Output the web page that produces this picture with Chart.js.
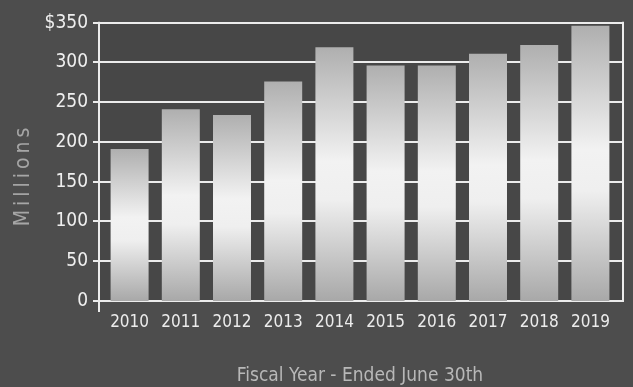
<!DOCTYPE html>
<html lang="en">
<head>
<meta charset="utf-8">
<title>Fiscal Year</title>
<script src="https://cdn.jsdelivr.net/npm/chart.js@4"></script>
<style>
    html, body { margin: 0; padding: 0; background: #4d4d4d; }
    #grafico { display: block; }
</style>
</head>
<body>
<canvas id="grafico" width="633" height="387"></canvas>
<script>
// Datos: millones por año fiscal
const anios = ['2010', '2011', '2012', '2013', '2014', '2015', '2016', '2017', '2018', '2019'];
const millones = [191, 241, 234, 276, 319, 296, 296, 311, 322, 346];
const marcasY = [0, 50, 100, 150, 200, 250, 300, 350];

const tituloY = 'Millions';
const tituloX = 'Fiscal Year - Ended June 30th';

const fuente = "'DejaVu Sans Condensed', 'DejaVu Sans', sans-serif";

// Degradado vertical de cada barra: gris arriba y abajo, casi blanco al centro
function degradadoBarra(ctx) {
    const chart = ctx.chart;
    if (!chart.chartArea || !ctx.parsed) return '#d8d8d8';
    const y = chart.scales.y;
    const tope = y.getPixelForValue(ctx.parsed.y);
    const base = y.getPixelForValue(0);
    const g = chart.ctx.createLinearGradient(0, tope, 0, base);
    g.addColorStop(0, '#afafaf');
    g.addColorStop(0.45, '#f2f2f2');
    g.addColorStop(0.6, '#efefef');
    g.addColorStop(1, '#a8a8a8');
    return g;
}

// Marco, líneas guía y título vertical (se dibujan antes que las barras)
const marco = {
    id: 'marco',
    beforeDatasetsDraw(chart) {
        const { ctx, chartArea: a, scales: { y } } = chart;
        const izq = a.left - 5;
        const der = a.right + 7;
        const arriba = y.getPixelForValue(350);
        const abajo = y.getPixelForValue(0);
        ctx.save();
        ctx.fillStyle = '#474747';
        ctx.fillRect(izq, arriba, der - izq, abajo - arriba);

        ctx.strokeStyle = '#ececec';
        ctx.lineWidth = 2;
        marcasY.forEach(v => {
            const py = Math.round(y.getPixelForValue(v));
            ctx.beginPath();
            ctx.moveTo(izq - 6, py);
            ctx.lineTo(der + 1, py);
            ctx.stroke();
        });
        ctx.beginPath();
        ctx.moveTo(izq, arriba - 1);
        ctx.lineTo(izq, abajo + 11);
        ctx.moveTo(der, arriba - 1);
        ctx.lineTo(der, abajo + 1);
        ctx.stroke();

        ctx.translate(24, 177);
        ctx.rotate(-Math.PI / 2);
        ctx.letterSpacing = '4px';
        ctx.font = '21px ' + fuente;
        ctx.fillStyle = '#a6a6a6';
        ctx.textAlign = 'center';
        ctx.textBaseline = 'middle';
        ctx.fillText(tituloY, 2, 0);
        ctx.restore();
    }
};

new Chart(document.getElementById('grafico').getContext('2d'), {
    type: 'bar',
    data: {
        labels: anios,
        datasets: [{
            data: millones,
            backgroundColor: degradadoBarra,
            borderWidth: 0,
            barPercentage: 1,
            categoryPercentage: 0.742
        }]
    },
    options: {
        responsive: false,
        animation: false,
        devicePixelRatio: 1,
        layout: { padding: { top: 0, right: 17, left: 0, bottom: 0 } },
        plugins: { legend: { display: false }, tooltip: { enabled: false } },
        scales: {
            x: {
                grid: { display: false, drawTicks: false },
                border: { display: false },
                ticks: { color: '#ececec', padding: 11, font: { family: fuente, size: 17 } },
                title: {
                    display: true,
                    text: tituloX,
                    color: '#b8b8b8',
                    padding: 0,
                    font: { family: fuente, size: 19 }
                },
                afterFit: s => { s.height = 86; }
            },
            y: {
                min: 0,
                max: 350,
                grid: { display: false, drawTicks: false },
                border: { display: false },
                ticks: {
                    stepSize: 50,
                    padding: 16,
                    color: '#efefef',
                    // lineHeight bajo para que la etiqueta superior no empuje el área del gráfico
                    font: { family: fuente, size: 19, lineHeight: 0.7 },
                    callback: v => v === 350 ? '$350' : v
                },
                afterFit: s => { s.width = 104; }
            }
        }
    },
    plugins: [marco]
});
</script>
</body>
</html>
